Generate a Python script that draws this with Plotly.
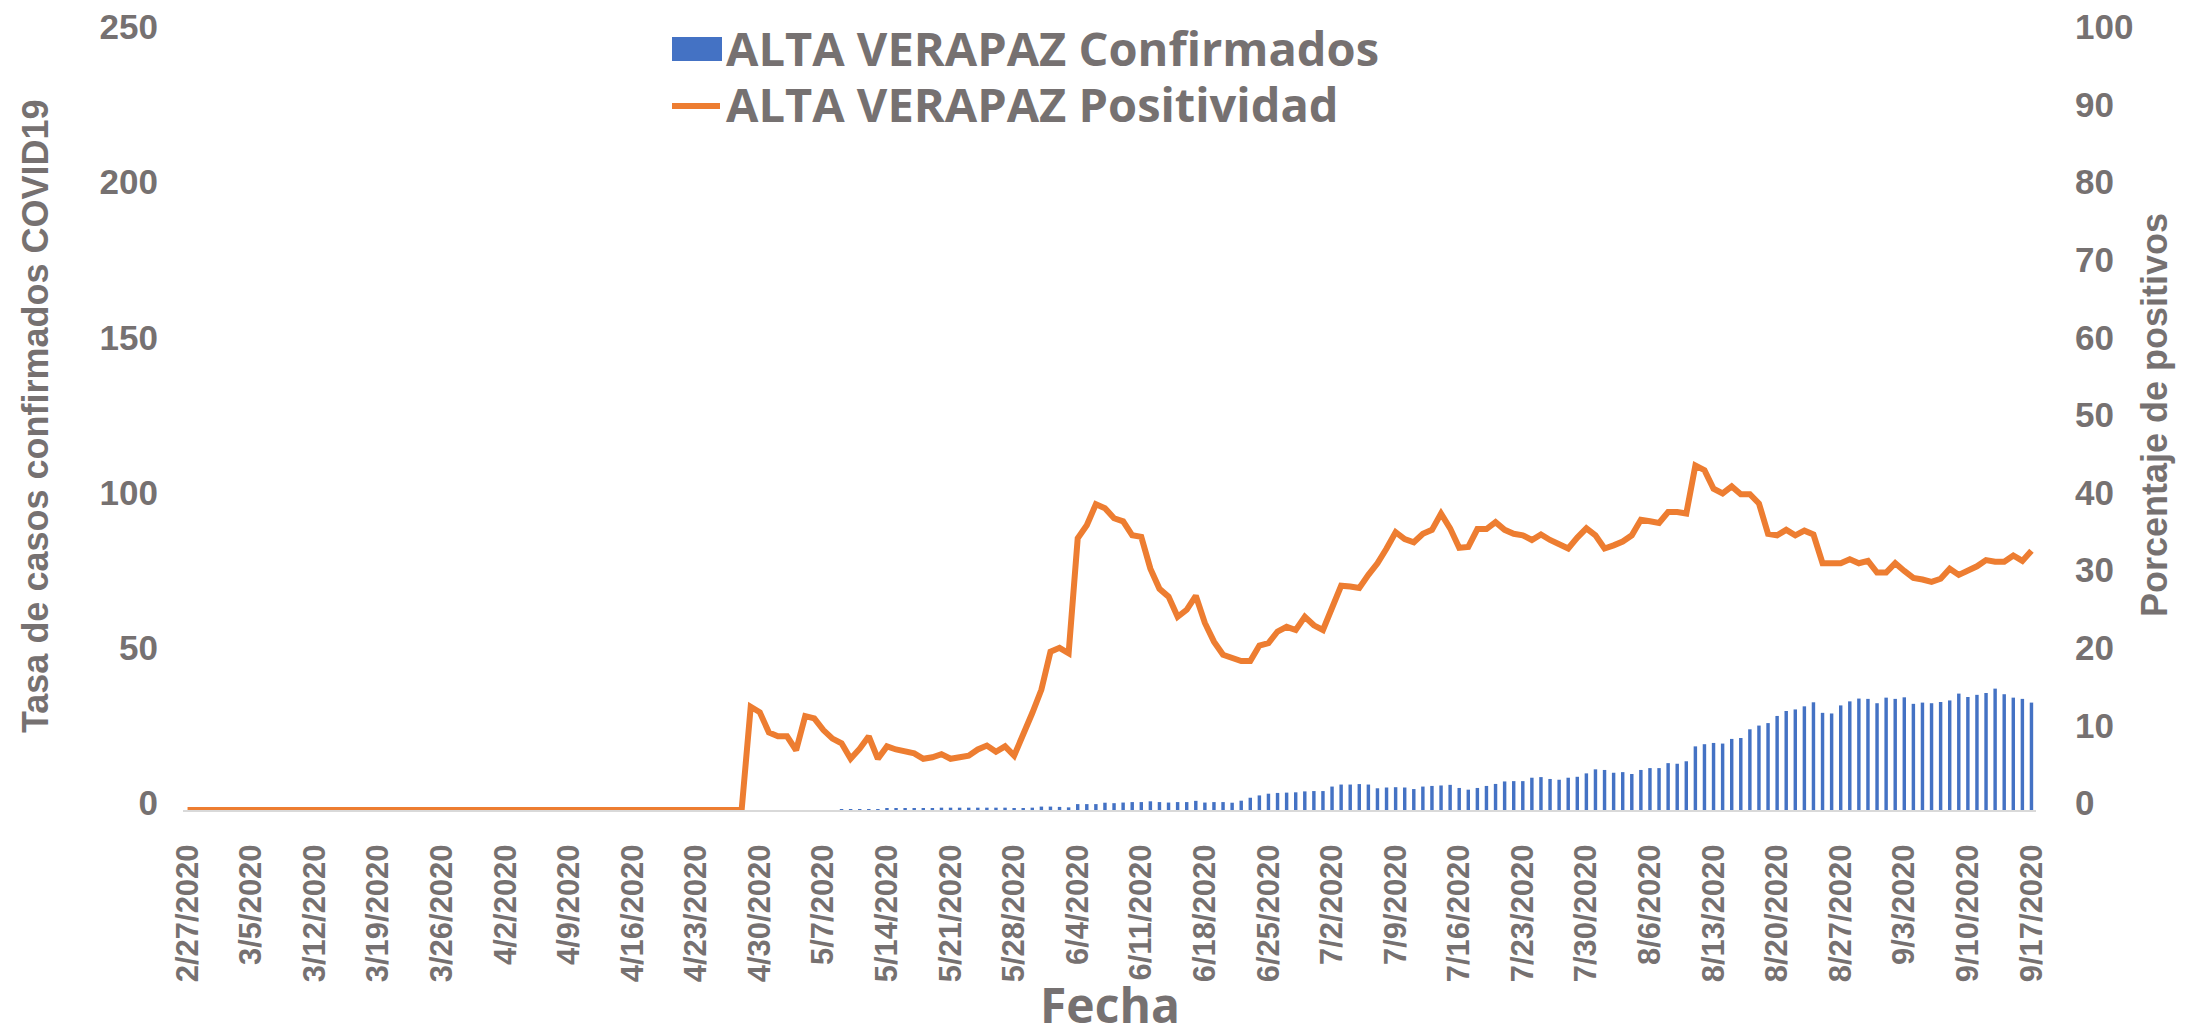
import pandas as pd
import plotly.graph_objects as go

# ---------------- data ----------------
fechas = [d.strftime("%-m/%-d/%Y") for d in pd.date_range("2020-02-27", "2020-09-17", freq="D")]

confirmados = [
    0, 0, 0, 0, 0, 0, 0, 0, 0, 0, 0, 0, 0, 0, 0, 0, 0, 0, 0, 0,
    0, 0, 0, 0, 0, 0, 0, 0, 0, 0, 0, 0, 0, 0, 0, 0, 0, 0, 0, 0,
    0, 0, 0, 0, 0, 0, 0, 0, 0, 0, 0, 0, 0, 0, 0, 0, 0, 0, 0, 0,
    0, 0, 0, 0, 0, 0, 0, 0, 0, 0, 0, 0,
    0.2, 0.2, 0.2, 0.3, 0.3, 0.4, 0.5, 0.6, 0.6, 0.6,
    0.6, 0.75, 0.75, 0.75, 0.75, 0.75, 0.75, 0.75, 0.75, 0.5,
    0.6, 0.75, 1.1, 1.1, 1.0, 0.85, 1.9, 1.9, 1.9, 2.35,
    2.2, 2.4, 2.55, 2.55, 2.8, 2.55, 2.4, 2.55, 2.55, 2.95,
    2.4, 2.55, 2.55, 2.35, 3.0, 3.95, 4.7, 5.25, 5.5, 5.6,
    5.7, 6.0, 6.1, 6.1, 7.55, 8.2, 8.2, 8.35, 8.2, 7.0,
    7.25, 7.35, 7.25, 6.75, 7.55, 7.75, 7.9, 8.1, 7.1, 6.55,
    7.1, 7.75, 8.4, 9.2, 9.3, 9.3, 10.4, 10.6, 10.0, 9.75,
    10.4, 10.7, 11.8, 13.1, 12.9, 12.0, 12.2, 11.6, 12.9, 13.5,
    13.5, 15.1, 14.9, 15.7, 20.5, 21.2, 21.6, 21.4, 22.9, 23.2,
    26.0, 27.2, 28.0, 30.3, 31.9, 32.4, 33.4, 34.7, 31.3, 31.1,
    33.7, 35.0, 35.9, 35.8, 34.4, 36.2, 35.8, 36.3, 34.2, 34.6,
    34.4, 34.8, 35.3, 37.5, 36.4, 37.1, 37.7, 39.1, 37.3, 36.2,
    35.8, 34.6,
]

positividad = [
    0, 0, 0, 0, 0, 0, 0, 0, 0, 0, 0, 0, 0, 0, 0, 0, 0, 0, 0, 0,
    0, 0, 0, 0, 0, 0, 0, 0, 0, 0, 0, 0, 0, 0, 0, 0, 0, 0, 0, 0,
    0, 0, 0, 0, 0, 0, 0, 0, 0, 0, 0, 0, 0, 0, 0, 0, 0, 0, 0, 0,
    0, 0,
    13.3, 12.6, 10.0, 9.5, 9.5, 7.7, 12.1, 11.8, 10.3, 9.2,
    8.6, 6.6, 7.9, 9.5, 6.6, 8.2, 7.8, 7.6, 7.3, 6.6,
    6.8, 7.2, 6.6, 6.8, 7.0, 7.8, 8.3, 7.5, 8.2, 7.0,
    9.6, 12.5, 15.5, 20.4, 20.9, 20.2, 35.0, 36.7, 39.4, 38.9,
    37.6, 37.2, 35.4, 35.2, 31.1, 28.5, 27.5, 24.9, 25.8, 27.6,
    24.1, 21.7, 20.0, 19.5, 19.2, 19.2, 21.2, 21.5, 23.0, 23.6,
    23.2, 24.9, 23.8, 23.2, 26.1, 28.9, 28.8, 28.6, 30.3, 31.8,
    33.7, 35.8, 34.9, 34.5, 35.6, 36.1, 38.2, 36.3, 33.8, 33.9,
    36.2, 36.2, 37.1, 36.1, 35.6, 35.4, 34.8, 35.5, 34.8, 34.2,
    33.7, 35.1, 36.3, 35.4, 33.7, 34.1, 34.6, 35.4, 37.4, 37.2,
    37.0, 38.4, 38.4, 38.2, 44.4, 43.8, 41.4, 40.8, 41.7, 40.7,
    40.7, 39.5, 35.6, 35.4, 36.1, 35.4, 36.0, 35.5, 31.8, 31.8,
    31.8, 32.3, 31.8, 32.1, 30.6, 30.6, 31.8, 30.8, 29.9, 29.7,
    29.4, 29.8, 31.1, 30.3, 30.8, 31.4, 32.2, 32.0, 32.0, 32.8,
    32.1, 33.4,
]

ticks_fecha = fechas[::7]
ticks_izq = [0, 50, 100, 150, 200, 250]
ticks_der = [0, 10, 20, 30, 40, 50, 60, 70, 80, 90, 100]

serie_bar = "ALTA VERAPAZ Confirmados"
serie_lin = "ALTA VERAPAZ Positividad"
titulo_x = "Fecha"
titulo_y1 = "Tasa de casos confirmados COVID19"
titulo_y2 = "Porcentaje de positivos"

# ---------------- style ----------------
GRAY = "#767171"
BLUE = "#4472C4"
ORANGE = "#ED7D31"
NARROW = "Liberation Sans, Arial, sans-serif"
WIDE = "Open Sans, Lato, sans-serif"

W, H = 2190, 1031
ML, MR, MT, MB = 175, 162, 26, 229

fig = go.Figure()
fig.add_trace(go.Bar(x=fechas, y=confirmados, name=serie_bar,
                     marker=dict(color=BLUE, line=dict(width=0)), yaxis="y"))
fig.add_trace(go.Scatter(x=fechas, y=positividad, name=serie_lin, mode="lines",
                         line=dict(color=ORANGE, width=6), yaxis="y2"))

fig.update_layout(
    width=W, height=H,
    margin=dict(l=ML, r=MR, t=MT, b=MB, autoexpand=False),
    paper_bgcolor="white", plot_bgcolor="white",
    showlegend=False,
    bargap=0.62,
    xaxis=dict(
        type="category", tickmode="array", tickvals=ticks_fecha, ticktext=ticks_fecha,
        tickangle=-90, ticks="", showgrid=False, zeroline=False,
        showline=True, linecolor="#D9D9D9", linewidth=2,
        tickfont=dict(family=NARROW, size=31, color=GRAY, weight="bold"),
        ticklabelstandoff=20,
        automargin=False,
    ),
    yaxis=dict(
        range=[0, 250], tickmode="array", tickvals=ticks_izq, ticks="",
        showgrid=False, zeroline=False, showline=False,
        tickfont=dict(family=NARROW, size=35, color=GRAY, weight="bold"),
        ticklabelstandoff=24, ticklabelshift=-7, ticklabeloverflow="allow",
        automargin=False,
    ),
    yaxis2=dict(
        range=[0, 100], tickmode="array", tickvals=ticks_der, ticks="",
        overlaying="y", side="right",
        showgrid=False, zeroline=False, showline=False,
        tickfont=dict(family=NARROW, size=35, color=GRAY, weight="bold"),
        ticklabelstandoff=38, ticklabelshift=-7, ticklabeloverflow="allow",
        automargin=False,
    ),
)

# ---------------- helpers: pixel -> paper ----------------
pw = W - ML - MR
ph = H - MT - MB
def px(x):
    return (x - ML) / pw
def py(y):
    return (H - MB - y) / ph

# axis titles
fig.add_annotation(xref="paper", yref="paper", x=px(27), y=py(408), textangle=-90,
                   xanchor="center", yanchor="middle", showarrow=False, text=titulo_y1,
                   font=dict(family=NARROW, size=36, color=GRAY, weight="bold"))
fig.add_annotation(xref="paper", yref="paper", x=px(2146), y=py(407), textangle=-90,
                   xanchor="center", yanchor="middle", showarrow=False, text=titulo_y2,
                   font=dict(family=NARROW, size=36, color=GRAY, weight="bold"))
fig.add_annotation(xref="paper", yref="paper", x=0.5, y=py(996),
                   xanchor="center", yanchor="middle", showarrow=False, text=titulo_x,
                   font=dict(family=WIDE, size=48, color=GRAY, weight="bold"))

# legend (drawn in paper coordinates)
fig.add_shape(type="rect", xref="paper", yref="paper",
              x0=px(664), x1=px(714), y0=py(53), y1=py(29),
              fillcolor=BLUE, line=dict(width=0))
fig.add_shape(type="line", xref="paper", yref="paper",
              x0=px(664), x1=px(712), y0=py(98), y1=py(98),
              line=dict(color=ORANGE, width=6))
fig.add_annotation(xref="paper", yref="paper", x=px(716), y=py(40),
                   xanchor="left", yanchor="middle", showarrow=False,
                   text=serie_bar, font=dict(family=WIDE, size=47, color=GRAY, weight="bold"))
fig.add_annotation(xref="paper", yref="paper", x=px(716), y=py(96),
                   xanchor="left", yanchor="middle", showarrow=False,
                   text=serie_lin, font=dict(family=WIDE, size=47, color=GRAY, weight="bold"))

fig.write_html("out.html")
